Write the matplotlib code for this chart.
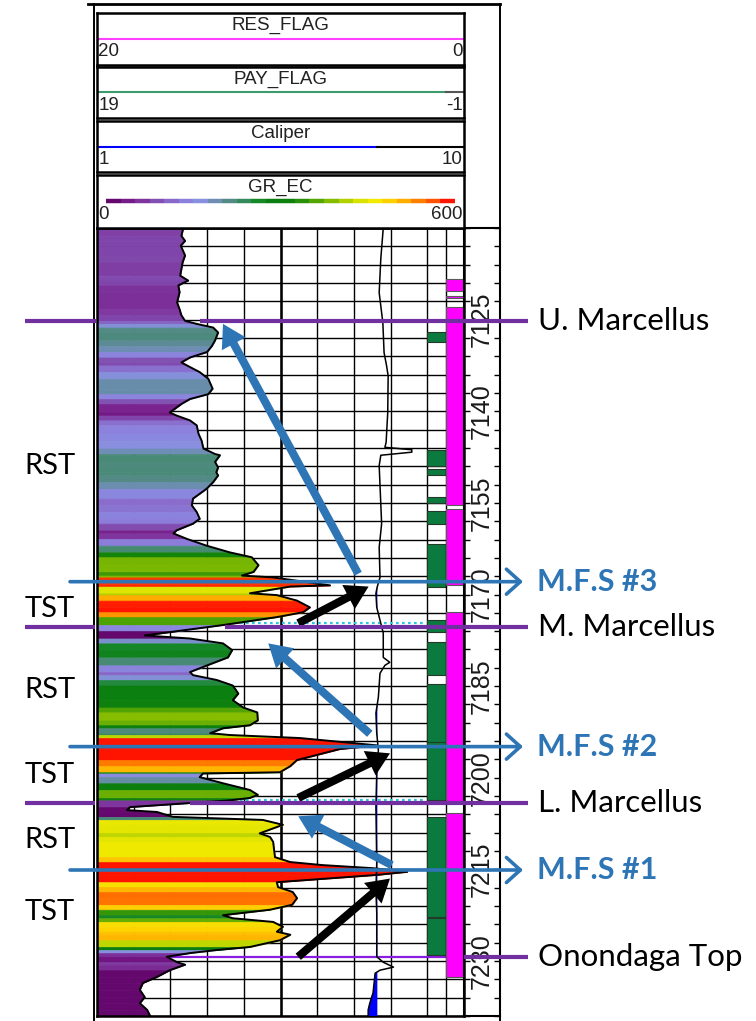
import numpy as np
import matplotlib
matplotlib.use('Agg')
import matplotlib.pyplot as plt
from matplotlib import transforms
from matplotlib.colors import LinearSegmentedColormap, Normalize
from matplotlib.patches import FancyArrowPatch
from matplotlib.collections import LineCollection

W, H = 756, 1021

# GR_EC curve: depth (ft) and value (API)
GR_DEPTH = [7110.0, 7111.3, 7112.1, 7112.9, 7114.5, 7115.6, 7117.8, 7118.6, 7119.4, 7120.5,
            7122.2, 7123.3, 7124.3, 7125.2, 7125.7, 7126.3, 7127.1, 7128.4, 7129.3, 7130.3,
            7131.2, 7132.0, 7132.5, 7133.6, 7134.7, 7136.3, 7137.2, 7138.0, 7138.8, 7140.2,
            7140.7, 7141.5, 7142.3, 7143.7, 7144.8, 7146.1, 7147.0, 7147.2, 7148.3, 7149.2,
            7150.0, 7150.5, 7151.6, 7152.7, 7154.3, 7155.4, 7156.5, 7157.6, 7158.4, 7159.5,
            7160.0, 7160.9, 7162.0, 7163.1, 7163.9, 7165.2, 7166.3, 7166.9, 7167.2, 7168.5,
            7168.7, 7169.8, 7170.1, 7171.0, 7172.1, 7172.9, 7173.7, 7175.0, 7176.0, 7176.7,
            7177.2, 7178.0, 7179.1, 7180.3, 7181.6, 7182.7, 7183.2, 7184.0, 7184.9, 7186.2,
            7187.3, 7188.5, 7189.3, 7190.6, 7191.4, 7191.9, 7192.7, 7193.0, 7193.5, 7194.7,
            7195.3, 7197.1, 7198.1, 7199.1, 7199.3, 7199.9, 7200.9, 7202.0, 7202.8, 7203.3,
            7203.7, 7204.8, 7205.3, 7205.6, 7206.4, 7206.9, 7207.7, 7209.1, 7209.7, 7210.5,
            7213.0, 7213.8, 7214.3, 7214.8, 7215.4, 7215.9, 7217.1, 7217.9, 7218.7, 7219.7,
            7220.8, 7221.6, 7222.5, 7223.0, 7223.6, 7224.4, 7225.2, 7225.7, 7226.6, 7227.7,
            7228.2, 7228.7, 7229.3, 7230.2, 7230.6, 7231.5, 7232.6, 7233.6, 7234.7, 7235.9,
            7236.9, 7238.0, 7239.0]
GR_VAL = [141, 138, 144, 137, 144, 140, 136, 149, 133, 135,
          131, 135, 138, 144, 163, 190, 198, 193, 188, 180,
          152, 138, 147, 168, 182, 189, 182, 152, 138, 119,
          130, 152, 163, 166, 171, 174, 193, 201, 193, 198,
          195, 198, 190, 179, 157, 155, 163, 168, 157, 130,
          125, 147, 179, 217, 253, 264, 256, 237, 288, 381,
          316, 250, 294, 327, 348, 337, 294, 206, 131, 78,
          152, 206, 221, 214, 180, 152, 157, 196, 222, 231,
          222, 239, 262, 263, 250, 206, 185, 217, 332, 458,
          397, 327, 316, 299, 173, 168, 206, 250, 263, 250,
          217, 54, 49, 98, 124, 271, 304, 266, 283, 288,
          291, 316, 369, 451, 507, 458, 294, 296, 320, 327,
          319, 283, 206, 222, 288, 304, 294, 316, 299, 250,
          196, 152, 114, 131, 144, 119, 98, 75, 70, 78,
          70, 82, 87]

# Caliper (in), scale 1-10, bit size 7 7/8
CAL_DEPTH = [7110.0, 7115.0, 7120.6, 7125.5, 7130.4, 7132.5, 7134.2, 7140.2, 7145.1, 7145.9,
             7146.3, 7146.7, 7147.2, 7148.9, 7152.1, 7158.4, 7162.3, 7167.2, 7168.8, 7169.8,
             7172.1, 7174.2, 7176.3, 7180.3, 7181.1, 7181.6, 7182.9, 7186.8, 7189.4, 7192.7,
             7195.5, 7199.2, 7204.8, 7214.0, 7218.4, 7222.1, 7229.3, 7230.2, 7231.0, 7231.5,
             7232.0, 7235.2, 7236.9, 7238.0, 7239.0]
CAL_VAL = [8.02, 7.96, 7.92, 8.01, 8.04, 8.10, 8.14, 8.13, 8.09, 8.06,
           8.72, 8.72, 7.96, 7.92, 7.94, 7.98, 7.92, 7.94, 7.87, 7.84,
           7.86, 7.94, 8.02, 8.02, 8.18, 8.06, 7.94, 7.90, 7.84, 7.86,
           7.90, 7.86, 7.84, 7.86, 7.84, 7.86, 7.86, 8.02, 8.27, 7.94,
           7.82, 7.77, 7.69, 7.65, 7.65]
BIT_SIZE = 7.875

# flag intervals (value 1)
PAY_TOP = [7127.1, 7146.4, 7149.5, 7154.1, 7156.4, 7161.7, 7174.2, 7177.7, 7184.7, 7194.2, 7206.4, 7223.0]
PAY_BASE = [7128.7, 7149.0, 7150.4, 7155.0, 7158.4, 7168.8, 7176.2, 7183.1, 7194.2, 7203.7, 7222.8, 7229.0]
RES_TOP = [7118.3, 7121.1, 7123.0, 7156.0, 7172.9, 7205.7]
RES_BASE = [7120.3, 7121.5, 7155.4, 7168.5, 7204.0, 7232.6]

# formation tops / surfaces
TOPS_NAME = ['U. Marcellus', 'M. Marcellus', 'L. Marcellus', 'Onondaga Top']
TOPS_DEPTH = [7125.2, 7175.4, 7204.1, 7229.3]
SOFT_TOPS = [7174.7, 7203.7]
MFS_NAME = ['M.F.S #3', 'M.F.S #2', 'M.F.S #1']
MFS_DEPTH = [7167.9, 7194.9, 7215.1]
SEQ_NAME = ['RST', 'TST', 'RST', 'TST', 'RST', 'TST']
SEQ_DEPTH = [7148.9, 7172.3, 7185.7, 7199.6, 7210.2, 7222.0]

# arrows (GR, depth) tail -> tip
BLUE_TAIL = [(427, 7166.6), (446, 7192.8), (482, 7214.3)]
BLUE_TIP = [(206, 7125.7), (280, 7178.0), (329, 7206.3)]
BLACK_TAIL = [(329, 7174.7), (329, 7203.3), (329, 7229.3)]
BLACK_TIP = [(444, 7168.7), (479, 7196.0), (479, 7216.5)]

DEPTH_LABELS = list(range(7125, 7231, 15))

GR_COLORS = ['#64086e', '#761c88', '#7e349c', '#8250b2', '#8868c8', '#8c80dc', '#8890e0',
             '#6e8eb4', '#548a86', '#348a5a', '#168828', '#0a7e10', '#0e800c', '#2a900a',
             '#56a602', '#84bc00', '#b2d200', '#dae200', '#f2ea00', '#ffd000', '#ffae00',
             '#ff8000', '#ff5200', '#ff1400']
BLUE = '#2e75b6'
PURPLE = '#7030a0'
FONT = ['Lato', 'DejaVu Sans']
HFONT = ['Liberation Sans', 'DejaVu Sans']

cmap = LinearSegmentedColormap.from_list('gr_ec', GR_COLORS)
norm = Normalize(115, 340, clip=True)

fig = plt.figure(figsize=(W / 100, H / 100), dpi=100)


def rect(x0, y0, x1, y1):
    return [x0 / W, 1 - y1 / H, (x1 - x0) / W, (y1 - y0) / H]


DTOP, DBASE = 7110, 7239

# ---- main log track ----
ax = fig.add_axes(rect(97, 228, 464, 1016))
ax.set_xlim(0, 600)
ax.set_xticks(np.arange(0, 601, 60))
ax.set_yticks(np.arange(DTOP, DBASE + 1, 3))
ax.tick_params(length=0, labelbottom=False, labelleft=False)
ax.set_axisbelow(True)
ax.grid(True, color='black', lw=1.0)
ax.axvline(300, color='black', lw=1.8, zorder=1)
for s in ax.spines.values():
    s.set_linewidth(1.8)

for i in range(len(GR_DEPTH) - 1):
    c = cmap(norm(0.5 * (GR_VAL[i] + GR_VAL[i + 1])))
    ax.fill_betweenx(GR_DEPTH[i:i + 2], 0, GR_VAL[i:i + 2], color=c, lw=0.5, zorder=2)
ax.plot(GR_VAL, GR_DEPTH, color='black', lw=1.4, zorder=3)
ax.axhline(TOPS_DEPTH[3], color='#8a1ee0', lw=1.6, zorder=1.5)
ax.hlines(SOFT_TOPS, 234, 533, colors='#2ec4dc', linestyles=(0, (1.2, 1.5)), lw=1.6, zorder=2.5)

ax_cal = ax.twiny()
ax_cal.set_xlim(1, 10)
cal = np.array(CAL_VAL)
ax_cal.fill_betweenx(CAL_DEPTH, cal, BIT_SIZE, where=cal < BIT_SIZE, interpolate=True,
                     color='#0000ff', lw=0)
ax_cal.plot(CAL_VAL, CAL_DEPTH, color='black', lw=1.1)
ax_cal.axis('off')

ax_pay = ax.twiny()
ax_pay.set_xlim(19, -1)
ax_pay.barh(PAY_TOP, 1, height=np.subtract(PAY_BASE, PAY_TOP), left=0, align='edge',
            color='#0b7a3e', edgecolor='#233a2a', lw=0.8)
ax_pay.axis('off')

ax_res = ax.twiny()
ax_res.set_xlim(20, 0)
ax_res.axvline(1, color='black', lw=1.0, zorder=1)
ax_res.barh(RES_TOP, 1, height=np.subtract(RES_BASE, RES_TOP), left=0, align='edge',
            color='#ff00ff', edgecolor='#5a5a5a', lw=0.8, zorder=2)
ax_res.axis('off')
ax.set_ylim(DBASE, DTOP)

# ---- depth track ----
axd = fig.add_axes(rect(464, 228, 500, 1016), facecolor='none')
axd.set_ylim(DBASE, DTOP)
axd.set_xlim(0, 1)
axd.set_xticks([])
axd.set_yticks(np.arange(DTOP, DBASE + 1, 3))
axd.tick_params(axis='y', direction='in', length=4, width=1, left=True, right=True,
                labelleft=False)
for s in axd.spines.values():
    s.set_linewidth(1.5)
dblend = transforms.blended_transform_factory(axd.transAxes, axd.transData)
for d in DEPTH_LABELS:
    axd.text(0.5, d, str(d), rotation=90, ha='center', va='center', fontsize=18,
             family=HFONT, color='#1a1a1a', transform=dblend)

# ---- headers ----
HEADERS = [('RES_FLAG', '20', '0', 13, 65),
           ('PAY_FLAG', '19', '-1', 67, 118),
           ('Caliper', '1', '10', 121, 172),
           ('GR_EC', '0', '600', 175, 228)]
for name, lo, hi, y0, y1 in HEADERS:
    hx = fig.add_axes(rect(97, y0, 464, y1))
    hx.set_xlim(0, 1)
    hx.set_ylim(0, 1)
    hx.set_xticks([])
    hx.set_yticks([])
    for s in hx.spines.values():
        s.set_linewidth(1.8)
    hx.text(0.5, 0.76, name, ha='center', va='center', fontsize=13.5, family=HFONT, color='#222222')
    hx.text(0.004, 0.25, lo, ha='left', va='center', fontsize=13.5, family=HFONT, color='#222222')
    hx.text(0.996, 0.25, hi, ha='right', va='center', fontsize=13.5, family=HFONT, color='#222222')
    if name == 'RES_FLAG':
        hx.plot([0, 1], [0.5, 0.5], color='#ff40ff', lw=1.5)
    elif name == 'PAY_FLAG':
        f0 = (19 - 0) / 20
        hx.plot([0, f0], [0.5, 0.5], color='#3d9a6a', lw=1.5)
        hx.plot([f0, 1], [0.5, 0.5], color='#555555', lw=1.5)
    elif name == 'Caliper':
        fb = (BIT_SIZE - 1) / 9
        hx.plot([0, fb], [0.5, 0.5], color='#0000ff', lw=1.5)
        hx.plot([fb, 1], [0.5, 0.5], color='black', lw=1.5)
    else:
        xs = np.linspace(0.0245, 0.975, len(GR_COLORS) + 1)
        segs = [[(xs[k], 0.5), (xs[k + 1], 0.5)] for k in range(len(GR_COLORS))]
        hx.add_collection(LineCollection(segs, colors=GR_COLORS, lw=3.2))

# ---- frame ----
fig.add_artist(plt.Line2D([94 / W, 94 / W], [0, 1 - 4 / H], color='black', lw=1.4))
fig.add_artist(plt.Line2D([500 / W, 500 / W], [0, 1 - 4 / H], color='black', lw=1.4))
fig.add_artist(plt.Line2D([88 / W, 500 / W], [1 - 4 / H, 1 - 4 / H], color='black', lw=2))

# ---- annotation overlay ----
ov = fig.add_axes(rect(97, 228, 464, 1016), facecolor='none', zorder=10)
ov.set_xlim(0, 600)
ov.set_ylim(DBASE, DTOP)
ov.axis('off')
blend = transforms.blended_transform_factory(fig.transFigure, ov.transData)

TOPS_SEGS = [[(25, 96), (200, 528)], [(25, 95), (225, 528)], [(25, 95), (190, 528)], [(464, 528)]]
for d, segs in zip(TOPS_DEPTH, TOPS_SEGS):
    for xa, xb in segs:
        ov.plot([xa / W, xb / W], [d, d], color=PURPLE, lw=3, transform=blend,
                clip_on=False, solid_capstyle='butt')
for name, d in zip(TOPS_NAME, TOPS_DEPTH):
    ov.text(538 / W, d, name, transform=blend, ha='left', va='center', fontsize=22.5,
            family=FONT, color='black')

for name, d in zip(MFS_NAME, MFS_DEPTH):
    ov.add_patch(FancyArrowPatch((70 / W, d), (523 / W, d), transform=blend,
                                 arrowstyle='->,head_length=0.5,head_width=0.45',
                                 mutation_scale=20, color=BLUE, lw=2.6, clip_on=False,
                                 shrinkA=0, shrinkB=0))
    ov.text(537 / W, d, name, transform=blend, ha='left', va='center', fontsize=22,
            family=FONT, fontweight='bold', color=BLUE)

for name, d in zip(SEQ_NAME, SEQ_DEPTH):
    ov.text(50 / W, d, name, transform=blend, ha='center', va='center', fontsize=21,
            family=FONT, color='black')

for tails, tips, col in [(BLUE_TAIL, BLUE_TIP, BLUE), (BLACK_TAIL, BLACK_TIP, 'black')]:
    for t, p in zip(tails, tips):
        ov.add_patch(FancyArrowPatch(t, p, arrowstyle='simple,head_length=1.25,head_width=1.5,tail_width=0.45',
                                     mutation_scale=13, color=col, lw=0, shrinkA=0, shrinkB=0))

fig.savefig('out.png', dpi=100)
